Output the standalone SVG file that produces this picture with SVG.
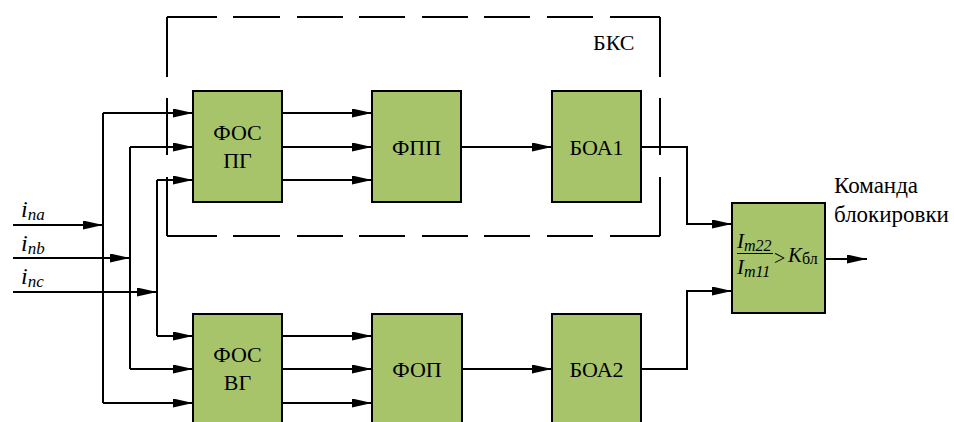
<svg xmlns="http://www.w3.org/2000/svg" width="954" height="422" viewBox="0 0 954 422">
<style>
.blk{fill:#a7c46b;stroke:#000;stroke-width:2}
.ln{fill:none;stroke:#000;stroke-width:2}
.arr{fill:none;stroke:#000;stroke-width:2;marker-end:url(#ah)}
.dash{fill:none;stroke:#000;stroke-width:2}
</style>
<defs>
<marker id="ah" markerUnits="userSpaceOnUse" markerWidth="21" markerHeight="10" refX="20" refY="4.5" orient="auto">
<path d="M0,0 L20,4.5 L0,9 z" fill="#000"/>
</marker>
</defs>
<rect width="954" height="422" fill="#fff"/>
<g font-family="Liberation Serif, serif" fill="#000">
<g id="bks">
<path class="dash" d="M167,17 H660" stroke-dasharray="50 16 47 17 46 16 46 17 46 16 46 17 46 17"/>
<path class="dash" d="M167,236 H660" stroke-dasharray="50 16 47 17 46 16 46 17 46 16 46 17 46 17"/>
<path class="dash" d="M167,17 V236" stroke-dasharray="60 21 57 22 59"/>
<path class="dash" d="M660,17 V236" stroke-dasharray="60 21 57 22 59"/>
<text x="593" y="50" font-size="22">БКС</text>
</g>

<g id="connectors">
<path class="arr" d="M13,225 H103"/>
<path class="arr" d="M13,258 H130"/>
<path class="arr" d="M13,292 H157"/>
<path class="ln" d="M103,113 V403"/>
<path class="ln" d="M130,147 V369"/>
<path class="ln" d="M157,180 V336"/>
<path class="arr" d="M103,113 H193"/>
<path class="arr" d="M130,147 H193"/>
<path class="arr" d="M157,180 H193"/>
<path class="arr" d="M157,336 H193"/>
<path class="arr" d="M130,369 H193"/>
<path class="arr" d="M103,403 H193"/>
<path class="arr" d="M282,113 H372"/>
<path class="arr" d="M282,147 H372"/>
<path class="arr" d="M282,180 H372"/>
<path class="arr" d="M461,147 H552"/>
<path class="arr" d="M282,336 H372"/>
<path class="arr" d="M282,369 H372"/>
<path class="arr" d="M282,403 H372"/>
<path class="arr" d="M462,369 H552"/>
<path class="arr" d="M641,147 H687 V224 H732"/>
<path class="arr" d="M641,369 H687 V291 H732"/>
<path class="arr" d="M822,259 H867"/>
</g>

<g id="inputs" font-style="italic">
<text x="21" y="217" font-size="24">i<tspan font-size="17" dy="3">na</tspan></text>
<text x="21" y="251" font-size="24">i<tspan font-size="17" dy="3">nb</tspan></text>
<text x="21" y="284" font-size="24">i<tspan font-size="17" dy="3">nc</tspan></text>
</g>

<g id="fos_pg" font-size="22" text-anchor="middle">
<rect class="blk" x="193" y="91" width="89" height="111"/>
<text x="237.5" y="140">ФОС</text>
<text x="237.5" y="168">ПГ</text>
</g>
<g id="fpp" font-size="22" text-anchor="middle">
<rect class="blk" x="372" y="91" width="89" height="111"/>
<text x="416.5" y="155">ФПП</text>
</g>
<g id="boa1" font-size="22" text-anchor="middle">
<rect class="blk" x="552" y="91" width="89" height="111"/>
<text x="596.5" y="155">БОА1</text>
</g>
<g id="fos_vg" font-size="22" text-anchor="middle">
<rect class="blk" x="193" y="314" width="89" height="120"/>
<text x="237.5" y="362">ФОС</text>
<text x="237.5" y="390">ВГ</text>
</g>
<g id="fop" font-size="22" text-anchor="middle">
<rect class="blk" x="372" y="314" width="90" height="120"/>
<text x="417" y="377">ФОП</text>
</g>
<g id="boa2" font-size="22" text-anchor="middle">
<rect class="blk" x="552" y="314" width="89" height="120"/>
<text x="596.5" y="377">БОА2</text>
</g>

<g id="compare">
<rect class="blk" x="732" y="203" width="93" height="110"/>
<text x="737" y="248" font-size="21" font-style="italic">I<tspan font-size="16" dy="3">m22</tspan></text>
<line x1="737" y1="253.5" x2="773" y2="253.5" stroke="#000" stroke-width="1.2"/>
<text x="737" y="274" font-size="21" font-style="italic">I<tspan font-size="16" dy="3">m11</tspan></text>
<text x="774" y="265" font-size="20">&gt;</text>
<text x="788" y="262" font-size="21" font-style="italic">K<tspan font-style="normal" font-size="16" dy="2">бл</tspan></text>
</g>

<g id="output" font-size="23">
<text x="834" y="193">Команда</text>
<text x="834" y="222">блокировки</text>
</g>
</g>
</svg>
